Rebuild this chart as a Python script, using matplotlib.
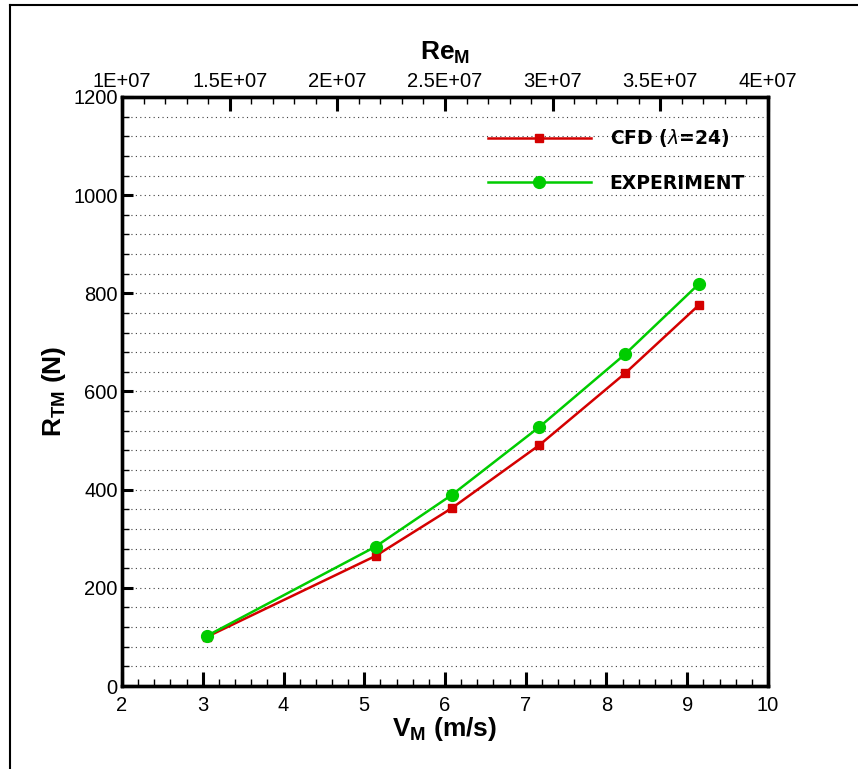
import matplotlib
matplotlib.use("Agg")
import matplotlib.pyplot as plt
from matplotlib.ticker import MultipleLocator
from matplotlib.lines import Line2D

# model speed (m/s) and total resistance (N)
v_model = [3.05, 5.14, 6.09, 7.17, 8.23, 9.15]
r_cfd = [100, 265, 363, 491, 637, 777]
r_exp = [102, 284, 390, 528, 676, 820]

# Reynolds number axis on top
re_ticks = [1e7, 1.5e7, 2e7, 2.5e7, 3e7, 3.5e7, 4e7]
re_labels = ["1E+07", "1.5E+07", "2E+07", "2.5E+07", "3E+07", "3.5E+07", "4E+07"]

plt.rcParams["font.family"] = ["Liberation Sans", "DejaVu Sans"]

fig = plt.figure(figsize=(8.58, 7.69), dpi=100)
ax = fig.add_axes([0.1422, 0.1079, 0.7529, 0.766])

red = "#d40000"
green = "#00cc00"
ax.plot(v_model, r_cfd, color=red, lw=1.8, marker="s", ms=6, label=r"CFD ($\lambda$=24)")
ax.plot(v_model, r_exp, color=green, lw=1.8, marker="o", ms=8.5, label="EXPERIMENT")

ax.set_xlim(2, 10)
ax.set_ylim(0, 1200)
ax.xaxis.set_major_locator(MultipleLocator(1))
ax.xaxis.set_minor_locator(MultipleLocator(0.2))
ax.yaxis.set_major_locator(MultipleLocator(200))
ax.yaxis.set_minor_locator(MultipleLocator(40))
ax.grid(True, which="both", axis="y", linestyle=(0, (1, 3)), color="0.25", lw=0.8)

ax.tick_params(axis="x", which="major", direction="in", length=10, width=2.2, labelsize=14.5, pad=7)
ax.tick_params(axis="x", which="minor", direction="in", length=5, width=1)
ax.tick_params(axis="y", which="major", direction="in", length=8, width=2.2, labelsize=14.5, pad=3)
ax.tick_params(axis="y", which="minor", direction="in", length=5, width=1)
for sp in ax.spines.values():
    sp.set_linewidth(2.4)

ax.set_xlabel(r"V$_\mathregular{M}$ (m/s)", fontsize=19, fontweight="bold", labelpad=0)
ax.set_ylabel(r"R$_\mathregular{TM}$ (N)", fontsize=19, fontweight="bold", labelpad=4)

top = ax.twiny()
top.set_xlim(1e7, 4e7)
top.set_xticks(re_ticks)
top.set_xticklabels(re_labels)
top.xaxis.set_minor_locator(MultipleLocator(1e6))
top.tick_params(axis="x", which="major", direction="in", length=10, width=2.2, labelsize=14.5, pad=4)
top.tick_params(axis="x", which="minor", direction="in", length=5, width=1)
top.set_xlabel(r"Re$_\mathregular{M}$", fontsize=19, fontweight="bold", labelpad=9)
for sp in top.spines.values():
    sp.set_linewidth(2.4)

leg = ax.legend(loc="upper left", bbox_to_anchor=(0.54, 0.977), frameon=False,
                handlelength=5.5, labelspacing=1.3, handletextpad=1.0,
                prop={"family": "DejaVu Sans", "weight": "bold", "size": 13.5})

# page frame: top and left edges only
fig.add_artist(Line2D([0.0117, 1.0], [0.9935, 0.9935], transform=fig.transFigure, color="black", lw=1.5))
fig.add_artist(Line2D([0.0117, 0.0117], [0.0, 0.9935], transform=fig.transFigure, color="black", lw=1.5))

fig.savefig("out.png", dpi=100)
